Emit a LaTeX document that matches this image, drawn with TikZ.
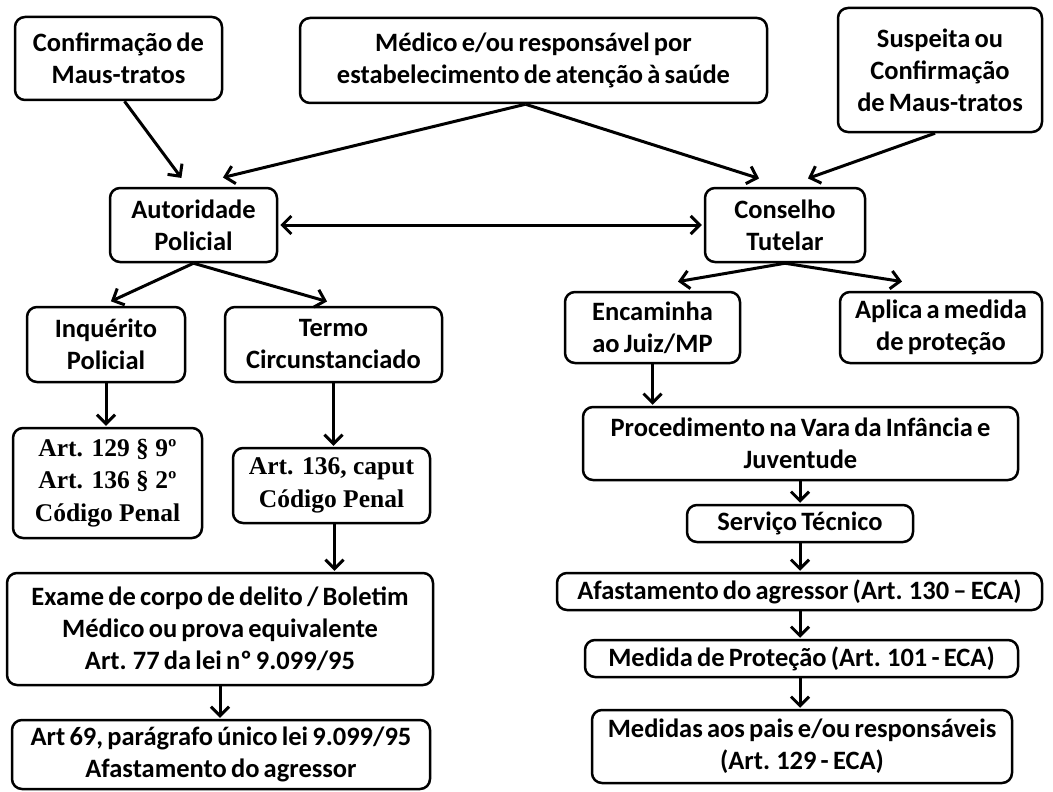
\documentclass[tikz,border=0pt]{standalone}
\usepackage{fontspec}
\setmainfont{Carlito}[WordSpace=0.7]
\newfontfamily\serifb{Liberation Serif}
\usetikzlibrary{arrows.meta}
\tikzset{
  box/.style={draw, line width=2.5pt, rounded corners=10pt, inner sep=0pt, align=center,
    font=\fontsize{26.5}{32}\selectfont\bfseries, fill=white},
  sbox/.style={box, font=\fontsize{25.5}{32.5}\selectfont\serifb\bfseries},
  arr/.style={line width=3pt, -{Straight Barb[length=9pt,width=18pt,line width=3pt]}, shorten >=1pt},
  darr/.style={line width=3pt, {Straight Barb[length=9pt,width=18pt,line width=3pt]}-{Straight Barb[length=9pt,width=18pt,line width=3pt]}, shorten >=2pt, shorten <=2pt}
}
\begin{document}
\begin{tikzpicture}[x=1pt,y=-1pt]
\useasboundingbox (0,0) rectangle (1053,792);
\node[box, minimum width=207pt, minimum height=83pt] (c1) at (118.5,58.5) {Confirmação de\\Maus-tratos};
\node[box, minimum width=467pt, minimum height=85pt] (med) at (533.5,60.5) {Médico e/ou responsável por\\estabelecimento de atenção à saúde};
\node[box, minimum width=204pt, minimum height=124pt] (sus) at (940,70) {Suspeita ou\\Confirmação\\de Maus-tratos};
\node[box, minimum width=167pt, minimum height=74pt] (aut) at (193.5,225) {Autoridade\\Policial};
\node[box, minimum width=160pt, minimum height=74pt] (con) at (785,225) {Conselho\\Tutelar};
\node[box, minimum width=158pt, minimum height=75pt] (inq) at (106,344.5) {Inquérito\\Policial};
\node[box, minimum width=217pt, minimum height=75pt] (ter) at (333.5,344.5) {Termo\\Circunstanciado};
\node[sbox, minimum width=189pt, minimum height=110pt] (a129) at (107.5,483) {Art. 129 § 9º\\Art. 136 § 2º\\Código Penal};
\node[sbox, minimum width=197pt, minimum height=75pt] (a136) at (331.5,485.5) {Art. 136, caput\\Código Penal};
\node[box, minimum width=426pt, minimum height=112pt] (exa) at (220,629) {Exame de corpo de delito / Boletim\\Médico ou prova equivalente\\Art. 77 da lei nº 9.099/95};
\node[box, minimum width=418pt, minimum height=69pt] (a69) at (221,754.5) {Art 69, parágrafo único lei 9.099/95\\Afastamento do agressor};
\node[box, minimum width=175pt, minimum height=71pt] (enc) at (652.5,327.5) {Encaminha\\ao Juiz/MP};
\node[box, minimum width=202pt, minimum height=71pt] (apl) at (941,327.5) {Aplica a medida\\de proteção};
\node[box, minimum width=435pt, minimum height=73pt] (pro) at (800.5,443.5) {Procedimento na Vara da Infância e\\Juventude};
\node[box, minimum width=226pt, minimum height=37pt] (ser) at (800,523.5) {Serviço Técnico};
\node[box, minimum width=485pt, minimum height=37pt] (afa) at (799.5,591.5) {Afastamento do agressor (Art. 130 – ECA)};
\node[box, minimum width=433pt, minimum height=37pt] (medp) at (801.5,658.5) {Medida de Proteção (Art. 101 - ECA)};
\node[box, minimum width=420pt, minimum height=73pt] (meds) at (802,746.5) {Medidas aos pais e/ou responsáveis\\(Art. 129 - ECA)};

\draw[arr] ([xshift=6pt]c1.south) -- ([xshift=-11.5pt,yshift=8pt]aut.north);
\draw[arr] ([xshift=-8pt]med.south) -- ([xshift=28.5pt,yshift=9pt]aut.north);
\draw[arr] ([xshift=-8pt]med.south) -- ([xshift=-25pt,yshift=8pt]con.north);
\draw[arr] ([xshift=-5pt]sus.south) -- ([xshift=22pt,yshift=8pt]con.north);
\draw[darr] (aut.east) -- (con.west);
\draw[arr] (aut.south) -- ([xshift=4pt,yshift=4pt]inq.north);
\draw[arr] (aut.south) -- ([xshift=-5.5pt,yshift=4pt]ter.north);
\draw[arr] (inq.south) -- (inq.south |- a129.north);
\draw[arr] (ter.south) -- (ter.south |- a136.north);
\draw[arr] ([xshift=3pt]a136.south) -- ([xshift=3pt]a136.south |- exa.north);
\draw[arr] (exa.south) -- (exa.south |- a69.north);
\draw[arr] (con.south) -- ([xshift=24.5pt,yshift=9pt]enc.north);
\draw[arr] (con.south) -- ([xshift=-38pt,yshift=9pt]apl.north);
\draw[arr] (enc.south) -- (enc.south |- pro.north);
\draw[arr] (ser.north |- pro.south) -- (ser.north);
\draw[arr] (ser.south) -- (ser.south |- afa.north);
\draw[arr] (ser.south |- afa.south) -- (ser.south |- medp.north);
\draw[arr] (ser.south |- medp.south) -- (ser.south |- meds.north);
\end{tikzpicture}
\end{document}
